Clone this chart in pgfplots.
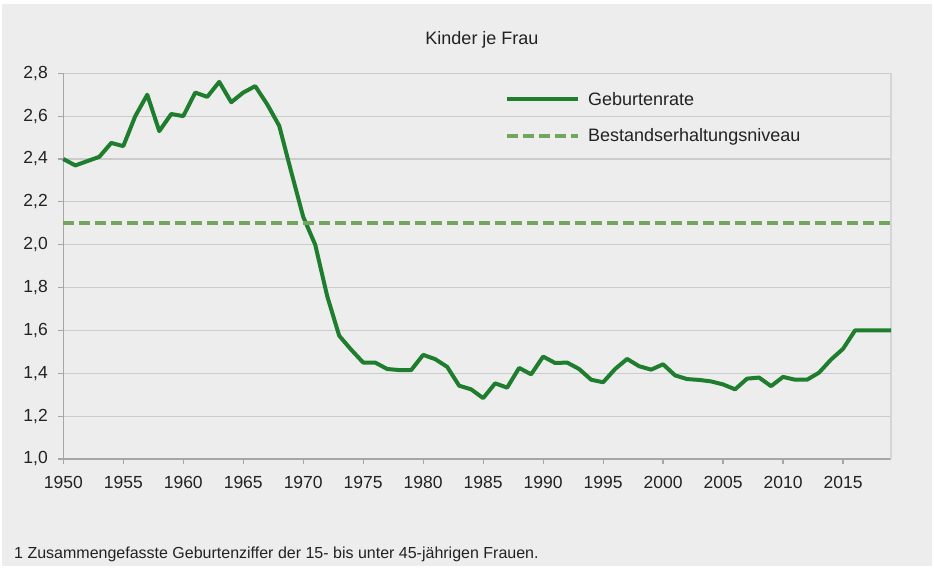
\documentclass[border=0pt]{standalone}
\usepackage{pgfplots}
\pgfplotsset{compat=1.18}
\usepackage{fontspec}
\setmainfont{Liberation Sans}
\definecolor{bgcol}{HTML}{EDEDED}
\definecolor{ratecol}{HTML}{1F7D2E}
\definecolor{levelcol}{HTML}{72A65C}
\definecolor{gridcol}{HTML}{CBCBCB}
\definecolor{axcol}{HTML}{A6A6A6}
\definecolor{txtcol}{HTML}{222222}

\pgfplotstableread{
year rate
1950 2.40
1951 2.37
1952 2.39
1953 2.41
1954 2.475
1955 2.46
1956 2.60
1957 2.70
1958 2.53
1959 2.61
1960 2.60
1961 2.71
1962 2.69
1963 2.76
1964 2.665
1965 2.71
1966 2.74
1967 2.655
1968 2.555
1969 2.34
1970 2.13
1971 2.00
1972 1.76
1973 1.575
1974 1.51
1975 1.45
1976 1.45
1977 1.42
1978 1.415
1979 1.415
1980 1.486
1981 1.466
1982 1.43
1983 1.342
1984 1.325
1985 1.284
1986 1.353
1987 1.333
1988 1.425
1989 1.395
1990 1.478
1991 1.448
1992 1.45
1993 1.42
1994 1.37
1995 1.358
1996 1.42
1997 1.467
1998 1.433
1999 1.417
2000 1.442
2001 1.39
2002 1.373
2003 1.369
2004 1.362
2005 1.348
2006 1.325
2007 1.375
2008 1.38
2009 1.34
2010 1.383
2011 1.37
2012 1.37
2013 1.403
2014 1.464
2015 1.514
2016 1.60
2017 1.60
2018 1.60
2019 1.60
}\ratetable

\pgfplotstableread{
year level
1950 2.1
2019 2.1
}\leveltable

\begin{document}
\begin{tikzpicture}[x=1bp, y=1bp]
% page and grey panel
\fill[white] (0,0) rectangle (934,569);
\fill[bgcol] (2,3) rectangle (932,565);

\begin{axis}[
    at={(63.3bp,110bp)}, anchor=south west,
    scale only axis,
    width=827.7bp, height=385.7bp,
    xmin=1950, xmax=2019,
    ymin=1.0, ymax=2.8,
    xtick={1950,1955,...,2015},
    ytick={1.0,1.2,...,2.8},
    xticklabel style={/pgf/number format/1000 sep={}, yshift=-9bp},
    yticklabel style={/pgf/number format/.cd, fixed, fixed zerofill, precision=1, use comma, /tikz/xshift=-7bp},
    /pgf/number format/assume math mode=true,
    tick label style={font=\fontsize{17.5bp}{20bp}\selectfont, text=txtcol},
    axis lines*=left,
    axis line style={axcol, line width=1.6bp},
    tick align=outside,
    major tick length=5bp,
    tick style={axcol, line width=1.2bp},
    ymajorgrids=true,
    grid style={gridcol, line width=1.2bp},
    clip=false,
    legend image code/.code={\draw[#1] (0bp,0bp) -- (71bp,0bp);},
    legend style={
        at={(0.530,0.957)}, anchor=north west,
        draw=none, fill=none,
        font=\fontsize{18bp}{21bp}\selectfont,
        text=txtcol,
        row sep=22bp,
        nodes={inner sep=0pt},
        /tikz/every odd column/.append style={column sep=8bp},
    },
    legend cell align=left,
]
\draw[gridcol!80, line width=1.2bp] (rel axis cs:1,0) -- (rel axis cs:1,1);
\addplot[ratecol, line width=4bp, line join=round] table[x=year, y=rate] {\ratetable};
\addlegendentry{Geburtenrate}
\addplot[levelcol, line width=4bp, dash pattern=on 11bp off 5bp] table[x=year, y=level] {\leveltable};
\addlegendentry{Bestandserhaltungsniveau}
\end{axis}

\node[anchor=base, inner sep=0pt, text=txtcol, font=\fontsize{18bp}{21bp}\selectfont] at (482,524) {Kinder je Frau};
\node[anchor=base west, inner sep=0pt, text=txtcol, font=\fontsize{16bp}{19bp}\selectfont] at (14,10.7) {1 Zusammengefasste Geburtenziffer der 15- bis unter 45-jährigen Frauen.};
\end{tikzpicture}
\end{document}
